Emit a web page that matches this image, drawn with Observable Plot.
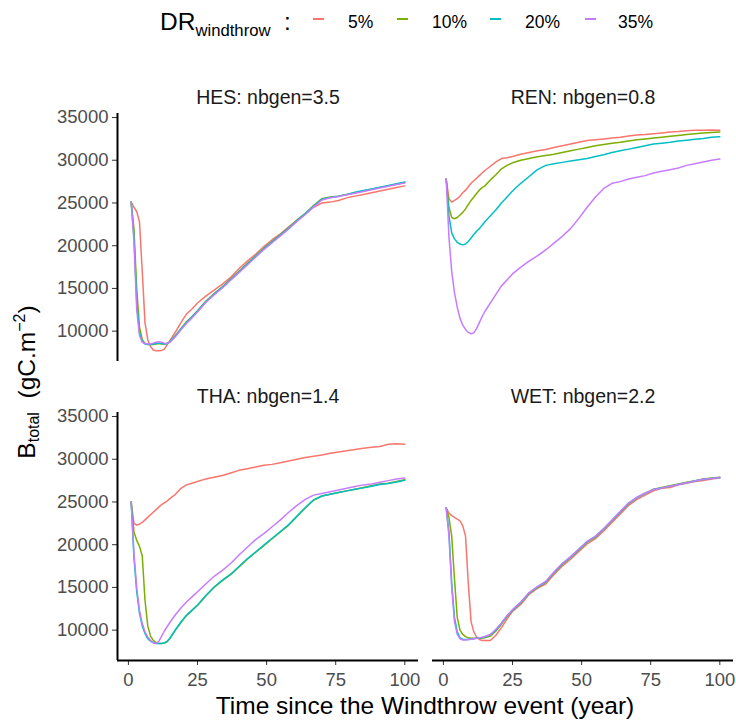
<!DOCTYPE html>
<html><head><meta charset="utf-8">
<script src="https://cdn.jsdelivr.net/npm/d3@7"></script>
<script src="https://cdn.jsdelivr.net/npm/@observablehq/plot@0.6"></script>
<style>
body{margin:0;background:#fff;font-family:"Liberation Sans",Arial,Helvetica,sans-serif;}
#root{position:relative;width:736px;height:721px;overflow:hidden;background:#fff;}
.panel{position:absolute;}
.panel g[aria-label="y-axis tick label"], .panel g[aria-label="x-axis tick label"]{fill:#4d4d4d;}
#overlay{position:absolute;left:0;top:0;}
</style></head><body><div id="root"></div>
<script>
// ---------------- data ----------------
const levels = ["5%", "10%", "20%", "35%"];
const colors = ["#F8766D", "#7CAE00", "#00BFC4", "#C77CFF"];
const sites = ["HES", "REN", "THA", "WET"];
const titles = ["HES: nbgen=3.5", "REN: nbgen=0.8", "THA: nbgen=1.4", "WET: nbgen=2.2"];
const xTicks = [0, 25, 50, 75, 100];
const yTicks = [10000, 15000, 20000, 25000, 30000, 35000];

const years = [1,2,3,4,5,6,7,8,9,10,11,12,13,14,15,
  17,19,21,23,25,28,31,34,37,
  40,43,46,49,52,55,58,61,64,67,70,
  73,76,79,82,85,88,91,94,97,100];

const HES_5 = [25100,24500,24000,22800,17000,11000,9000,8200,7800,7700,7700,7750,7900,8400,8900,
  9900,11000,12000,12600,13300,14100,14800,15500,16300,
  17300,18200,19000,19900,20700,21400,22200,23000,23700,24500,25000,
  25100,25300,25600,25800,26000,26200,26400,26600,26800,27000];
const HES_10 = [25100,22000,15000,10500,9000,8600,8450,8450,8450,8500,8550,8500,8500,8550,8750,
  9500,10300,11100,11700,12400,13500,14400,15200,16100,
  17000,17900,18800,19700,20500,21300,22100,23000,23800,24700,25500,
  25700,25800,26000,26200,26400,26600,26800,27000,27200,27400];
const HES_20 = [25100,21000,13500,9800,8800,8500,8450,8450,8500,8550,8600,8550,8500,8550,8750,
  9450,10250,11000,11650,12350,13450,14350,15150,16050,
  16950,17850,18750,19650,20450,21250,22050,22950,23750,24650,25450,
  25650,25800,26000,26250,26450,26650,26850,27050,27250,27450];
const HES_35 = [25100,20500,12500,9500,8700,8550,8500,8500,8600,8700,8750,8700,8600,8550,8700,
  9350,10150,10900,11550,12250,13350,14250,15050,15950,
  16850,17750,18650,19550,20350,21150,21950,22850,23650,24550,25350,
  25600,25750,25950,26150,26350,26550,26750,26950,27150,27350];

const REN_5 = [27800,25500,25100,25300,25500,25800,26200,26500,26900,27300,27600,27900,28200,28500,28800,
  29300,29800,30200,30300,30450,30700,30900,31100,31250,
  31500,31700,31900,32100,32300,32400,32500,32600,32700,32850,32950,
  33000,33100,33200,33300,33350,33450,33500,33500,33550,33500];
const REN_10 = [27800,24500,23300,23150,23300,23600,23900,24300,24800,25300,25700,26100,26500,26800,27000,
  27700,28300,29000,29400,29700,30000,30200,30400,30550,
  30700,30900,31100,31300,31500,31700,31850,32000,32100,32250,32400,
  32500,32600,32700,32800,32900,33000,33100,33200,33250,33300];
const REN_20 = [27800,23500,21500,20800,20400,20200,20100,20200,20500,20900,21300,21700,22000,22400,22800,
  23500,24200,25000,25700,26400,27300,28100,28900,29400,
  29600,29750,29900,30050,30200,30450,30650,30900,31100,31300,31500,
  31700,31900,32000,32100,32250,32350,32450,32550,32700,32750];
const REN_35 = [27800,21000,17000,14500,12800,11500,10700,10200,9850,9700,9800,10300,11000,11700,12300,
  13300,14300,15300,16000,16700,17500,18200,18800,19500,
  20300,21100,22000,23200,24500,25700,26700,27300,27500,27800,28000,
  28200,28500,28700,28900,29100,29400,29600,29800,30000,30150];

const THA_5 = [25000,22500,22300,22400,22600,22900,23200,23500,23800,24100,24400,24700,24900,25100,25400,
  25900,26600,27000,27200,27400,27700,27900,28100,28400,
  28700,28900,29100,29300,29400,29600,29800,30000,30200,30350,30500,
  30700,30850,31000,31150,31300,31400,31500,31750,31800,31750];
const THA_10 = [25000,21500,20500,19800,18700,13500,10500,9300,8800,8550,8450,8450,8500,8650,9000,
  10000,10900,11700,12300,12900,14000,15000,15800,16500,
  17400,18300,19100,19900,20700,21500,22300,23300,24300,25200,25700,
  25900,26100,26300,26500,26700,26900,27100,27200,27400,27600];
const THA_20 = [25000,18500,14500,12000,10500,9600,9000,8700,8550,8450,8450,8450,8500,8700,9050,
  10050,10950,11750,12350,12950,14050,15050,15850,16550,
  17450,18350,19150,19950,20750,21550,22350,23350,24350,25250,25700,
  25900,26100,26300,26500,26650,26850,27050,27150,27350,27550];
const THA_35 = [25000,19000,15000,12300,10800,9800,9200,8800,8500,8450,8700,9300,9900,10400,10900,
  11800,12600,13300,13900,14500,15400,16300,17000,17800,
  18800,19700,20600,21300,22100,22900,23800,24600,25300,25800,26000,
  26200,26400,26600,26800,27000,27100,27300,27500,27700,27800];

const WET_5 = [24300,23700,23400,23200,23000,22800,22200,21000,15500,11000,9800,9200,8900,8800,8800,
  8800,9400,10300,11300,12200,13000,14200,14900,15400,
  16500,17500,18300,19200,20100,20700,21600,22600,23600,24600,25300,
  25800,26300,26600,26700,27000,27200,27400,27500,27700,27800];
const WET_10 = [24300,23200,21000,16000,11500,10000,9500,9250,9100,9050,9050,9050,9050,9050,9100,
  9300,9900,10700,11600,12300,13200,14300,15000,15600,
  16700,17700,18500,19400,20300,20900,21800,22800,23800,24800,25500,
  26000,26500,26700,26900,27100,27300,27500,27700,27800,27900];
const WET_20 = [24300,21500,15500,11500,9800,9100,8950,8900,8900,8950,9000,9050,9100,9150,9200,
  9450,10000,10800,11650,12350,13250,14350,15050,15650,
  16750,17750,18550,19450,20350,20950,21850,22850,23850,24850,25500,
  26000,26450,26650,26850,27050,27250,27450,27650,27750,27850];
const WET_35 = [24300,21000,15000,11000,9500,9000,8850,8850,8900,8950,9000,9050,9100,9150,9250,
  9500,10100,10850,11700,12400,13300,14400,15100,15700,
  16800,17800,18600,19500,20400,21000,21900,22900,23900,24900,25550,
  26050,26450,26650,26850,27050,27250,27450,27650,27750,27850];

const seriesBySite = {
  HES: [HES_5, HES_10, HES_20, HES_35],
  REN: [REN_5, REN_10, REN_20, REN_35],
  THA: [THA_5, THA_10, THA_20, THA_35],
  WET: [WET_5, WET_10, WET_20, WET_35]
};

// ---------------- build ----------------
const FONT = '"Liberation Sans", Arial, Helvetica, sans-serif';
const xDomain = [-3.95, 104.95];
const yDomain = [6450, 35470];
const root = document.getElementById("root");

function rowsFor(site) {
  const out = [];
  seriesBySite[site].forEach((vals, k) => {
    vals.forEach((v, i) => out.push({t: years[i], b: v, dr: levels[k]}));
  });
  return out;
}

const layouts = [
  {left: 0,   top: 80,  width: 420, height: 286, mL: 117, mR: 2, mT: 33, mB: 5,  showX: false, showY: true},
  {left: 420, top: 80,  width: 316, height: 286, mL: 12,  mR: 3, mT: 33, mB: 5,  showX: false, showY: false},
  {left: 0,   top: 370, width: 420, height: 334, mL: 117, mR: 2, mT: 42, mB: 44, showX: true,  showY: true},
  {left: 420, top: 370, width: 316, height: 334, mL: 12,  mR: 3, mT: 42, mB: 44, showX: true,  showY: false}
];

sites.forEach((site, idx) => {
  const L = layouts[idx];
  const plot = Plot.plot({
    width: L.width, height: L.height,
    marginLeft: L.mL, marginRight: L.mR, marginTop: L.mT, marginBottom: L.mB,
    style: {fontFamily: FONT, fontSize: "18.5px", background: "transparent", color: "#333333", overflow: "visible"},
    x: {domain: xDomain, ticks: xTicks, axis: L.showX ? "bottom" : null, tickSize: 5, tickPadding: 7, label: null, tickFormat: d => String(d)},
    y: {domain: yDomain, ticks: yTicks, axis: L.showY ? "left" : null, tickSize: 5, tickPadding: 4, label: null, tickFormat: d => String(d)},
    color: {domain: levels, range: colors},
    marks: [
      L.showY ? Plot.ruleX([xDomain[0]], {stroke: "#000", strokeWidth: 2}) : null,
      L.showX ? Plot.ruleY([yDomain[0]], {stroke: "#000", strokeWidth: 2}) : null,
      Plot.line(rowsFor(site), {x: "t", y: "b", z: "dr", stroke: "dr", strokeWidth: 1.5}),
      Plot.text([titles[idx]], {frameAnchor: "top", dy: -10, lineAnchor: "bottom", fontSize: 19.5, fill: "#1a1a1a", fontFamily: FONT})
    ]
  });
  plot.classList.add("panel");
  plot.style.left = L.left + "px";
  plot.style.top = L.top + "px";
  root.appendChild(plot);
});

// ---------------- titles & legend ----------------
const NS = "http://www.w3.org/2000/svg";
const ov = document.createElementNS(NS, "svg");
ov.setAttribute("id", "overlay");
ov.setAttribute("width", 736);
ov.setAttribute("height", 721);
ov.setAttribute("font-family", FONT);
root.appendChild(ov);

function txt(parent, x, y, s, size, anchor, fill) {
  const t = document.createElementNS(NS, "text");
  t.setAttribute("x", x); t.setAttribute("y", y);
  t.setAttribute("font-size", size);
  t.setAttribute("text-anchor", anchor || "start");
  t.setAttribute("fill", fill || "#000");
  t.textContent = s;
  parent.appendChild(t);
  return t;
}
function tspan(parent, s, size, dy) {
  const t = document.createElementNS(NS, "tspan");
  t.setAttribute("font-size", size);
  if (dy) t.setAttribute("dy", dy);
  t.textContent = s;
  parent.appendChild(t);
  return t;
}

// x title
txt(ov, 425, 714, "Time since the Windthrow event (year)", 24.5, "middle");

// y title
const yt = document.createElementNS(NS, "text");
yt.setAttribute("transform", "translate(35,382) rotate(-90)");
yt.setAttribute("text-anchor", "middle");
yt.setAttribute("font-size", 24.5);
tspan(yt, "B", 24.5);
tspan(yt, "total", 16, 4);
tspan(yt, "\u00a0\u00a0(gC.m", 24.5, -4);
tspan(yt, "\u2212", 16, -10);
tspan(yt, "2", 16);
tspan(yt, ")", 24.5, 10);
ov.appendChild(yt);

// legend
const lt = txt(ov, 160, 30, "DR", 24.5, "start");
tspan(lt, "windthrow", 16.7, 6);
txt(ov, 284, 30, ":", 24.5, "start");
const keyX = [313, 397, 490, 585];
const labX = [348, 432, 525, 618];
levels.forEach((lv, k) => {
  const ln = document.createElementNS(NS, "line");
  ln.setAttribute("x1", keyX[k]); ln.setAttribute("x2", keyX[k] + 11);
  ln.setAttribute("y1", 19); ln.setAttribute("y2", 19);
  ln.setAttribute("stroke", colors[k]); ln.setAttribute("stroke-width", 2);
  ov.appendChild(ln);
  txt(ov, labX[k], 28, lv, 17.5, "start");
});
</script></body></html>
